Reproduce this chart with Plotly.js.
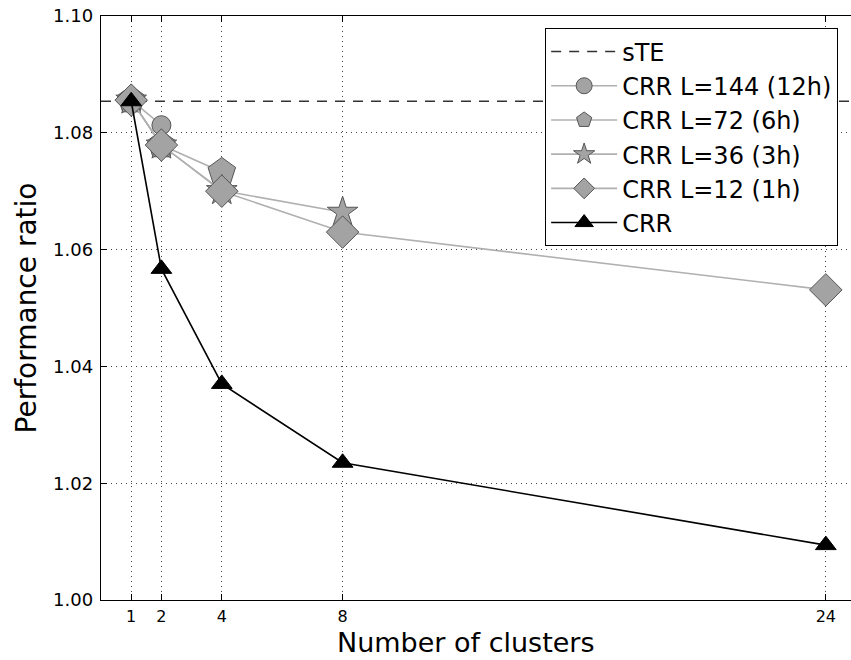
<!DOCTYPE html>
<html>
<head>
<meta charset="utf-8">
<script src="https://cdn.plot.ly/plotly-3.0.1.min.js"></script>
<style>
html,body{margin:0;padding:0;background:#fff;overflow:hidden;width:851px;height:660px;}
#chart{width:856px;height:660px;}
</style>
</head>
<body>
<div id="chart"></div>
<script>
// ---- data ----
const xTicks = [1, 2, 4, 8, 24];
const xRange = [0, 25];
const yRange = [1.00, 1.10];
const yTicks = [1.00, 1.02, 1.04, 1.06, 1.08, 1.10];
const yTickLabels = ["1.00", "1.02", "1.04", "1.06", "1.08", "1.10"];

const steValue = 1.0854;

const x144 = [1, 2];
const y144 = [1.0856, 1.0813];

const x72 = [1, 2, 4];
const y72 = [1.0856, 1.0779, 1.0733];

const x36 = [1, 2, 4, 8];
const y36 = [1.0856, 1.0779, 1.0701, 1.0664];

const x12 = [1, 2, 4, 8, 24];
const y12 = [1.0856, 1.0779, 1.0700, 1.0630, 1.0531];

const xCRR = [1, 2, 4, 8, 24];
const yCRR = [1.0854, 1.0567, 1.0370, 1.0235, 1.0094];

const names = ["sTE", "CRR L=144 (12h)", "CRR L=72 (6h)", "CRR L=36 (3h)", "CRR L=12 (1h)", "CRR"];
const xTitle = "Number of clusters";
const yTitle = "Performance ratio";

// ---- styles ----
const grayFill = "#a3a3a3";
const grayEdge = "#555555";
const grayLine = "#b0b0b0";
const font = "DejaVu Sans, sans-serif";

function graySeries(x, y, name, symbol, size) {
  return {
    x: x, y: y, name: name, type: "scatter", mode: "lines+markers",
    line: {color: grayLine, width: 1.6},
    marker: {symbol: symbol, size: size, color: grayFill, line: {color: grayEdge, width: 1}}
  };
}

const traces = [
  {
    x: [xRange[0], xRange[1]], y: [steValue, steValue], name: names[0],
    type: "scatter", mode: "lines",
    line: {color: "#333333", width: 1.6, dash: "10px,8px"}
  },
  graySeries(x144, y144, names[1], "circle", 19),
  graySeries(x72, y72, names[2], "pentagon", 29),
  graySeries(x36, y36, names[3], "star", 23),
  graySeries(x12, y12, names[4], "diamond", 25),
  {
    x: xCRR, y: yCRR, name: names[5], type: "scatter", mode: "lines+markers",
    line: {color: "#000000", width: 1.6},
    marker: {symbol: "triangle-up", size: 18, color: "#000000", line: {color: "#000000", width: 1}}
  }
];

const layout = {
  width: 856, height: 660,
  margin: {l: 101, r: 0, t: 16, b: 60},
  paper_bgcolor: "#ffffff",
  plot_bgcolor: "#ffffff",
  font: {family: font, color: "#000000"},
  showlegend: true,
  legend: {
    x: 0.588, y: 0.979, xanchor: "left", yanchor: "top",
    bgcolor: "#ffffff", bordercolor: "#000000", borderwidth: 1.2,
    font: {family: font, size: 24, color: "#000000"},
    itemwidth: 66,
    traceorder: "normal"
  },
  xaxis: {
    range: xRange,
    tickmode: "array", tickvals: xTicks, ticktext: xTicks.map(String),
    ticks: "inside", ticklen: 6, tickcolor: "#000000", tickwidth: 1,
    showline: true, linecolor: "#000000", linewidth: 1.2, mirror: "ticks",
    showgrid: true, gridcolor: "#444444", gridwidth: 1, griddash: "1px,4px",
    zeroline: false,
    tickfont: {family: font, size: 16, color: "#000000"},
    ticklabelstandoff: 2
  },
  yaxis: {
    range: yRange,
    tickmode: "array", tickvals: yTicks, ticktext: yTickLabels,
    ticks: "inside", ticklen: 6, tickcolor: "#000000", tickwidth: 1,
    showline: true, linecolor: "#000000", linewidth: 1.2, mirror: false,
    showgrid: true, gridcolor: "#444444", gridwidth: 1, griddash: "1px,4px",
    zeroline: false,
    tickfont: {family: font, size: 18, color: "#000000"},
    ticklabelstandoff: 3,
    title: {text: yTitle, font: {family: font, size: 28, color: "#000000"}, standoff: 8}
  },
  annotations: [{
    text: xTitle, xref: "paper", yref: "paper", x: 0.4834, y: 0,
    xanchor: "center", yanchor: "top", yshift: -25, showarrow: false,
    font: {family: font, size: 27, color: "#000000"}
  }]
};

Plotly.newPlot("chart", traces, layout, {displayModeBar: false, staticPlot: true});
</script>
</body>
</html>
